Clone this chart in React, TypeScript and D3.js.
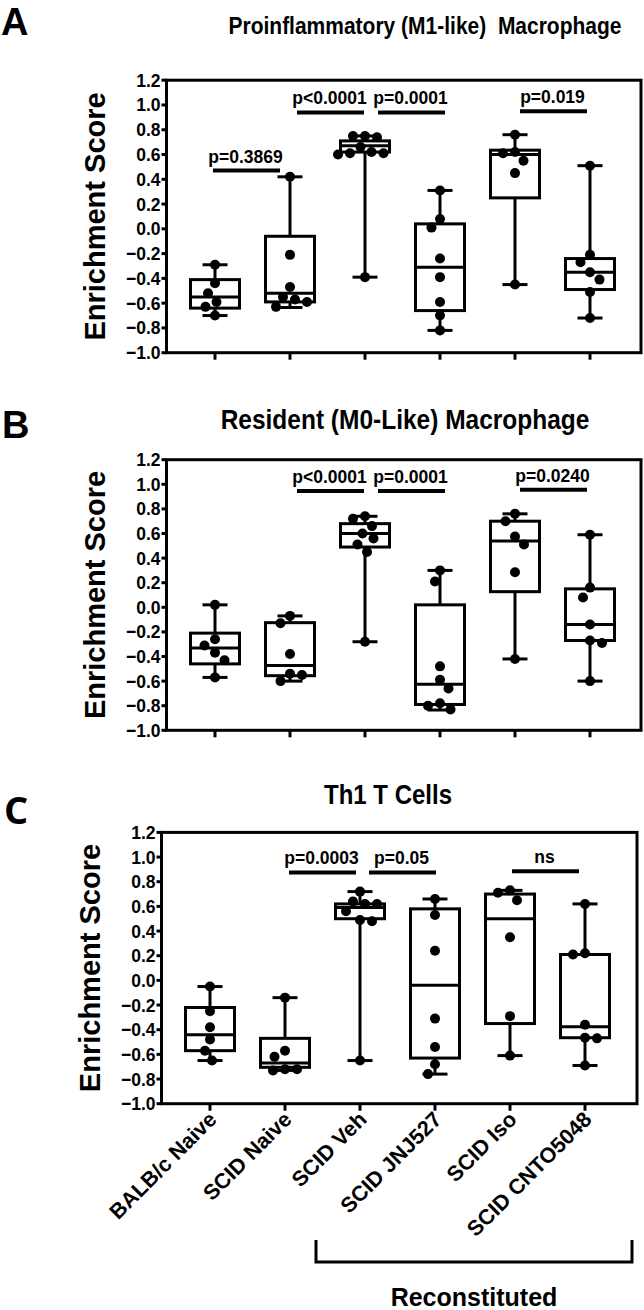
import React from "react";
import * as d3 from "d3";

const groups = ["BALB/c Naive", "SCID Naive", "SCID Veh", "SCID JNJ527", "SCID Iso", "SCID CNTO5048"];
const yTicks = [-1.0, -0.8, -0.6, -0.4, -0.2, 0.0, 0.2, 0.4, 0.6, 0.8, 1.0, 1.2];

// Panel A: Proinflammatory (M1-like) Macrophage
const m1Points = [
  [-0.29, -0.44, -0.52, -0.59, -0.63, -0.70],
  [0.42, -0.21, -0.47, -0.55, -0.57, -0.59, -0.63],
  [0.75, 0.75, 0.74, 0.66, 0.62, 0.61, 0.61, 0.60, -0.39],
  [0.31, 0.08, 0.01, -0.24, -0.39, -0.59, -0.70, -0.82],
  [0.76, 0.62, 0.61, 0.55, 0.45, -0.45],
  [0.51, -0.21, -0.27, -0.35, -0.41, -0.51, -0.72],
];
// min, q1, median, q3, max
const m1Box = [
  [-0.70, -0.64, -0.55, -0.41, -0.29],
  [-0.635, -0.59, -0.52, -0.06, 0.42],
  [-0.39, 0.62, 0.67, 0.71, 0.75],
  [-0.82, -0.66, -0.31, 0.04, 0.31],
  [-0.45, 0.25, 0.60, 0.635, 0.76],
  [-0.72, -0.49, -0.35, -0.24, 0.51],
];
const m1Sig = [
  { a: 0, b: 1, label: "p=0.3869", v: 0.47 },
  { a: 1, b: 2, label: "p<0.0001", v: 0.94 },
  { a: 2, b: 3, label: "p=0.0001", v: 0.94 },
  { a: 4, b: 5, label: "p=0.019", v: 0.95 },
];

// Panel B: Resident (M0-Like) Macrophage
const m0Points = [
  [0.02, -0.26, -0.31, -0.37, -0.43, -0.57],
  [-0.07, -0.13, -0.38, -0.54, -0.55, -0.60],
  [0.74, 0.72, 0.66, 0.60, 0.56, 0.51, 0.45, -0.28],
  [0.30, 0.21, -0.48, -0.59, -0.66, -0.78, -0.80, -0.83],
  [0.76, 0.70, 0.575, 0.51, 0.285, -0.42],
  [0.59, 0.16, 0.08, -0.14, -0.27, -0.29, -0.60],
];
const m0Box = [
  [-0.57, -0.46, -0.33, -0.21, 0.02],
  [-0.60, -0.556, -0.474, -0.125, -0.07],
  [-0.28, 0.49, 0.60, 0.68, 0.74],
  [-0.835, -0.79, -0.626, 0.02, 0.30],
  [-0.42, 0.127, 0.54, 0.70, 0.76],
  [-0.60, -0.27, -0.14, 0.15, 0.59],
];
const m0Sig = [
  { a: 1, b: 2, label: "p<0.0001", v: 0.945 },
  { a: 2, b: 3, label: "p=0.0001", v: 0.945 },
  { a: 4, b: 5, label: "p=0.0240", v: 0.955 },
];

// Panel C: Th1 T Cells
const th1Points = [
  [-0.05, -0.25, -0.38, -0.48, -0.57, -0.65],
  [-0.14, -0.57, -0.62, -0.72, -0.72, -0.73],
  [0.72, 0.64, 0.62, 0.62, 0.56, 0.49, 0.48, -0.65],
  [0.66, 0.53, 0.24, -0.31, -0.54, -0.68, -0.76],
  [0.73, 0.71, 0.65, 0.35, -0.29, -0.61],
  [0.62, 0.21, 0.22, -0.36, -0.47, -0.465, -0.69],
];
const th1Box = [
  [-0.65, -0.57, -0.44, -0.22, -0.05],
  [-0.73, -0.705, -0.67, -0.47, -0.14],
  [-0.65, 0.50, 0.59, 0.62, 0.72],
  [-0.76, -0.63, -0.04, 0.58, 0.66],
  [-0.61, -0.35, 0.50, 0.70, 0.73],
  [-0.69, -0.465, -0.376, 0.21, 0.62],
];
const th1Sig = [
  { a: 1, b: 2, label: "p=0.0003", v: 0.875 },
  { a: 2, b: 3, label: "p=0.05", v: 0.875 },
  { a: 4, b: 5, label: "ns", v: 0.885 },
];

// layout only: horizontal nudges (px) of the significance bars
const m1SigShift = [-6, 3, 9, 1];
const m0SigShift = [3, 9, 1];
const th1SigShift = [0, 5, -2];

const FONT = "'Liberation Sans', Arial, Helvetica, sans-serif";
const R = 5;

function swarm(ys: number[], minDist: number): number[] {
  const order = ys.map((y, i) => i).sort((i, j) => ys[i] - ys[j]);
  const placed: { x: number; y: number }[] = [];
  const out = new Array(ys.length).fill(0);
  let flip = -1;
  order.forEach((i) => {
    const y = ys[i];
    const ok = (dx: number) => placed.every((p) => Math.hypot(p.x - dx, p.y - y) >= minDist);
    let chosen = 0;
    for (let m = 0; m < 60; m += 0.5) {
      const a = flip * m, b = -flip * m;
      if (ok(a)) { chosen = a; break; }
      if (ok(b)) { chosen = b; break; }
    }
    if (chosen !== 0) flip = -flip;
    placed.push({ x: chosen, y });
    out[i] = chosen;
  });
  return out;
}

type PanelProps = {
  letter: string;
  letterFont: string;
  letterX: number;
  letterY: number;
  title: string;
  titleX: number;
  titleY: number;
  titleSize: number;
  x0: number;
  x1: number;
  catFirst: number;
  catLast: number;
  yTop: number;
  yBottom: number;
  points: number[][];
  box: number[][];
  sig: { a: number; b: number; label: string; v: number }[];
  sigShift: number[];
  showXLabels: boolean;
};

function Panel(p: PanelProps) {
  const x = d3.scalePoint<string>().domain(groups).range([p.catFirst, p.catLast]);
  const y = d3.scaleLinear().domain([-1.0, 1.2]).range([p.yBottom, p.yTop]);
  const fmt = d3.format(".1f");
  const boxW = 49;
  const capW = 25;
  const yTitleX = p.x0 - 62;
  return (
    <g>
      <text x={p.letterX} y={p.letterY} fontFamily={p.letterFont} fontWeight="bold" fontSize={38}>{p.letter}</text>
      <text transform={`translate(${p.titleX},${p.titleY}) scale(1,1.12)`} textAnchor="middle" fontFamily={FONT} fontWeight="bold" fontSize={p.titleSize} style={{ whiteSpace: "pre" }}>{p.title}</text>
      <text transform={`translate(${yTitleX},${(p.yTop + p.yBottom) / 2}) rotate(-90)`} textAnchor="middle" fontFamily={FONT} fontWeight="bold" fontSize={29}>Enrichment Score</text>
      <rect x={p.x0} y={p.yTop} width={p.x1 - p.x0} height={p.yBottom - p.yTop} fill="none" stroke="#000" strokeWidth={3} />
      {yTicks.map((t) => (
        <g key={t}>
          <line x1={p.x0 - 5} x2={p.x0} y1={y(t)} y2={y(t)} stroke="#000" strokeWidth={3} />
          <text transform={`translate(${p.x0 - 6},${y(t) + 6.5}) scale(1,1.1)`} textAnchor="end" fontFamily={FONT} fontWeight="bold" fontSize={17.5}>{fmt(t)}</text>
        </g>
      ))}
      {groups.map((g) => (
        <line key={g} x1={x(g)} x2={x(g)} y1={p.yBottom} y2={p.yBottom + 7} stroke="#000" strokeWidth={3} />
      ))}
      {p.showXLabels && groups.map((g) => (
        <text key={"l" + g} transform={`translate(${(x(g) as number) + 8},${p.yBottom + 17}) rotate(-45)`} textAnchor="end" fontFamily={FONT} fontWeight="bold" fontSize={21.5}>{g}</text>
      ))}
      {groups.map((g, i) => {
        const cx = x(g) as number;
        const [mn, q1, md, q3, mx] = p.box[i];
        return (
          <g key={"b" + g}>
            <line x1={cx} x2={cx} y1={y(mx)} y2={y(q3)} stroke="#000" strokeWidth={3} />
            <line x1={cx} x2={cx} y1={y(q1)} y2={y(mn)} stroke="#000" strokeWidth={3} />
            <line x1={cx - capW / 2} x2={cx + capW / 2} y1={y(mx)} y2={y(mx)} stroke="#000" strokeWidth={3} />
            <line x1={cx - capW / 2} x2={cx + capW / 2} y1={y(mn)} y2={y(mn)} stroke="#000" strokeWidth={3} />
            <rect x={cx - boxW / 2} y={y(q3)} width={boxW} height={y(q1) - y(q3)} fill="#fff" stroke="#000" strokeWidth={3} />
            <line x1={cx - boxW / 2} x2={cx + boxW / 2} y1={y(md)} y2={y(md)} stroke="#000" strokeWidth={3} />
          </g>
        );
      })}
      {groups.map((g, i) => {
        const cx = x(g) as number;
        const ys = p.points[i].map((v) => y(v));
        const offs = swarm(ys, 12);
        return (
          <g key={"p" + g}>
            {ys.map((yy, k) => (
              <circle key={k} cx={cx + offs[k]} cy={yy} r={R} fill="#000" />
            ))}
          </g>
        );
      })}
      {p.sig.map((s, i) => {
        const sh = p.sigShift[i] || 0;
        const xa = (x(groups[s.a]) as number) + 4 + sh;
        const xb = (x(groups[s.b]) as number) - 4 + sh;
        const yy = y(s.v);
        return (
          <g key={s.label + s.a}>
            <line x1={xa} x2={xb} y1={yy} y2={yy} stroke="#000" strokeWidth={4} />
            <text transform={`translate(${(xa + xb) / 2 - 1},${yy - 8}) scale(1,1.08)`} textAnchor="middle" fontFamily={FONT} fontWeight="bold" fontSize={17.5}>{s.label}</text>
          </g>
        );
      })}
    </g>
  );
}

export default function App() {
  const W = 644, H = 1310;
  const bracketX0 = 316, bracketX1 = 632;
  return (
    <svg width={W} height={H} viewBox={`0 0 ${W} ${H}`} style={{ position: "absolute", left: 0, top: 0, background: "#fff" }}>
      <rect x={0} y={0} width={W} height={H} fill="#fff" />
      <Panel letter="A" letterFont={FONT} letterX={1} letterY={35} title={"Proinflammatory (M1-like)  Macrophage"} titleX={425} titleY={34} titleSize={21}
        x0={166.5} x1={641} catFirst={215} catLast={590} yTop={80.2} yBottom={352.7}
        points={m1Points} box={m1Box} sig={m1Sig} sigShift={m1SigShift} showXLabels={false} />
      <Panel letter="B" letterFont={FONT} letterX={2} letterY={438} title="Resident (M0-Like) Macrophage" titleX={405} titleY={429} titleSize={24.5}
        x0={166.5} x1={641} catFirst={215} catLast={590} yTop={459.7} yBottom={730.3}
        points={m0Points} box={m0Box} sig={m0Sig} sigShift={m0SigShift} showXLabels={false} />
      <Panel letter="C" letterFont="'Open Sans', 'Noto Sans', sans-serif" letterX={4} letterY={824} title="Th1 T Cells" titleX={388} titleY={804} titleSize={24}
        x0={161.5} x1={637} catFirst={210} catLast={585} yTop={832.4} yBottom={1103.7}
        points={th1Points} box={th1Box} sig={th1Sig} sigShift={th1SigShift} showXLabels={true} />
      <path d={`M${bracketX0},1240 V1262 H${bracketX1} V1240`} fill="none" stroke="#000" strokeWidth={3} />
      <text x={(bracketX0 + bracketX1) / 2} y={1306} textAnchor="middle" fontFamily={FONT} fontWeight="bold" fontSize={25}>Reconstituted</text>
    </svg>
  );
}
